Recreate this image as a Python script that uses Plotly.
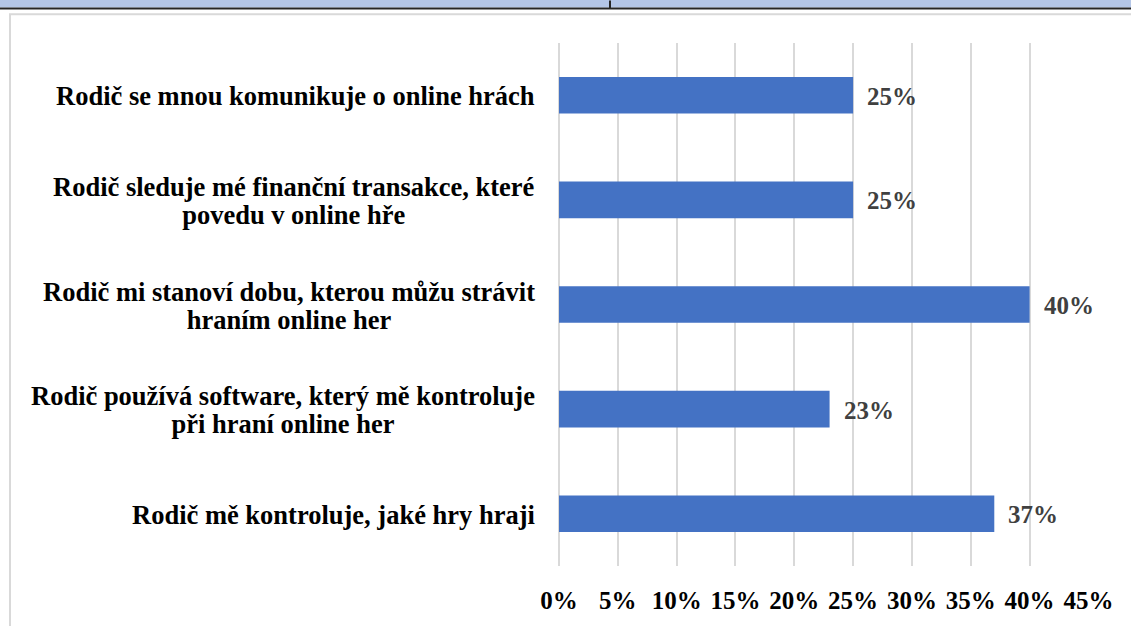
import plotly.graph_objects as go

categories = [
    "Rodič se mnou komunikuje o online hrách",
    "Rodič sleduje mé finanční transakce, které<br>povedu v online hře",
    "Rodič mi stanoví dobu, kterou můžu strávit<br>hraním online her",
    "Rodič používá software, který mě kontroluje<br>při hraní online her",
    "Rodič mě kontroluje, jaké hry hraji",
]
values = [25, 25, 40, 23, 37]
tick_vals = [0, 5, 10, 15, 20, 25, 30, 35, 40, 45]
tick_text = ["0%", "5%", "10%", "15%", "20%", "25%", "30%", "35%", "40%", "45%"]

W, H = 1131, 626
L, R, T, B = 559, 42, 43, 54
PW, PH = W - L - R, H - T - B

def px(x):
    return (x - L) / PW

def py(y):
    return (H - B - y) / PH

FONT = "Liberation Serif"
LINE_H = 28

fig = go.Figure()
fig.add_trace(go.Bar(
    x=values, y=categories, orientation="h",
    marker=dict(color="#4472c4", line=dict(width=0)),
    hoverinfo="skip",
))

annotations = []
for c, v in zip(categories, values):
    annotations.append(dict(
        x=v, y=c, xref="x", yref="y", text=f"<b>{v}%</b>", showarrow=False,
        xanchor="left", xshift=12, yshift=-1,
        font=dict(family=FONT, size=25, color="#404040"),
    ))
    n = len(c.split("<br>"))
    annotations.append(dict(
        x=0, y=c, xref="paper", yref="y", text=f"<b>{c}</b>".replace("<br>", "</b><br><b>"),
        showarrow=False, xanchor="right", align="center", xshift=-22,
        yshift=-1 - (n - 1) * 3,
        font=dict(family=FONT, size=26.5, color="#000000"),
    ))

shapes = [
    dict(type="rect", xref="paper", yref="paper", x0=px(-5), x1=px(W + 5), y0=py(7), y1=py(-5),
         fillcolor="#b4c6e7", line=dict(width=0), layer="below"),
    dict(type="line", xref="paper", yref="paper", x0=px(-5), x1=px(W + 5), y0=py(8), y1=py(8),
         line=dict(color="#262626", width=2)),
    dict(type="line", xref="paper", yref="paper", x0=px(610), x1=px(610), y0=py(0), y1=py(8),
         line=dict(color="#262626", width=2)),
    dict(type="rect", xref="paper", yref="paper", x0=px(10), x1=px(W + 20), y0=py(H + 20), y1=py(14),
         fillcolor="rgba(0,0,0,0)", line=dict(color="#d9d9d9", width=2), layer="below"),
]

fig.update_layout(
    width=W, height=H,
    margin=dict(l=L, r=R, t=T, b=B),
    paper_bgcolor="white", plot_bgcolor="white",
    showlegend=False,
    bargap=0.65,
    annotations=annotations,
    shapes=shapes,
    xaxis=dict(
        range=[0, 45.05], tickvals=tick_vals, ticktext=[f"<b>{t}</b>" for t in tick_text],
        showgrid=True, gridcolor="#d9d9d9", gridwidth=1.5,
        zeroline=True, zerolinecolor="#d9d9d9", zerolinewidth=1.5,
        showline=False, ticks="outside", ticklen=12, tickcolor="rgba(0,0,0,0)",
        tickfont=dict(family=FONT, size=25, color="#000000"),
        fixedrange=True,
    ),
    yaxis=dict(
        autorange="reversed", showticklabels=False, showgrid=False,
        showline=False, zeroline=False, fixedrange=True,
    ),
)

post = """
document.body.style.margin='0px';
document.body.style.overflow='hidden';
var gd = document.getElementById('{plot_id}');
gd.querySelectorAll('.annotation-text').forEach(function(t){
  var ls = t.querySelectorAll('tspan.line');
  ls.forEach(function(l, i){ l.setAttribute('dy', (i * %d) + 'px'); });
});
""" % LINE_H

fig.write_html("out.html", config={"displayModeBar": False}, post_script=post)
